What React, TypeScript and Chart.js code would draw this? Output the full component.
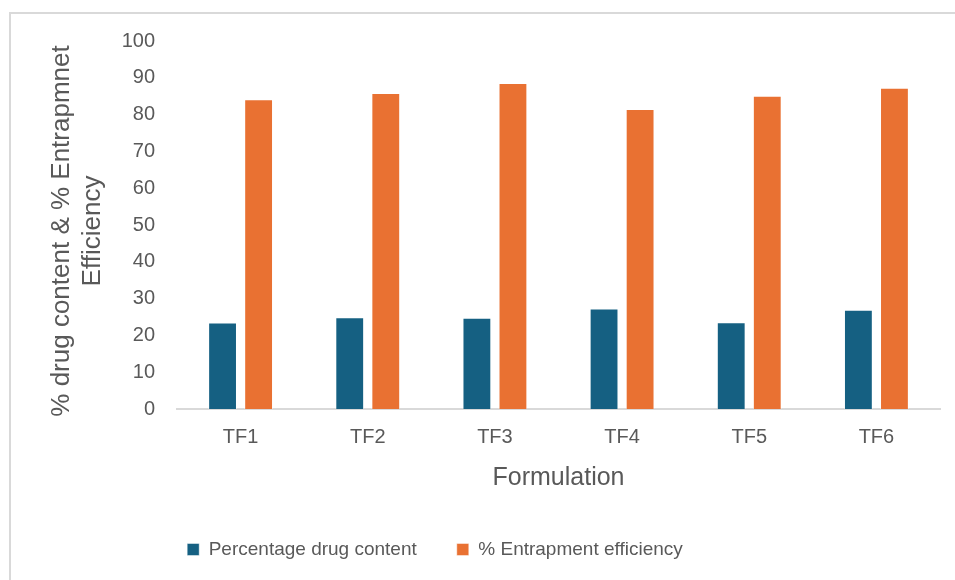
import React, { useEffect, useRef } from "react";
import { Chart, registerables } from "chart.js";

Chart.register(...registerables);

// Formulations and measured values
const formulations = ["TF1", "TF2", "TF3", "TF4", "TF5", "TF6"];
const drugContent = [23.5, 24.9, 24.8, 27.3, 23.6, 27.0];
const entrapmentEfficiency = [84.2, 85.9, 88.6, 81.5, 85.1, 87.3];
const yTitleLines = ["% drug content & % Entrapmnet", "Efficiency"];

const FONT = "'Liberation Sans', Arial, sans-serif";
const TEXT = "#595959";
const AXIS_LINE = "#d9d9d9";

// Moves the legend row left and nudges the y-axis title down a little
const framePlacement = {
  id: "framePlacement",
  afterLayout(chart: any) {
    const lg = chart.legend;
    if (lg) {
      lg.left -= 35;
      lg.right -= 35;
    }
    const y = chart.scales.y;
    if (y && !y.__titleShifted) {
      const original = y.drawTitle.bind(y);
      y.drawTitle = function () {
        const ctx = chart.ctx;
        ctx.save();
        ctx.translate(0, 6);
        original();
        ctx.restore();
      };
      y.__titleShifted = true;
    }
  },
};

export default function App() {
  const canvasRef = useRef<HTMLCanvasElement | null>(null);

  useEffect(() => {
    const canvas = canvasRef.current;
    if (!canvas) return;
    const chart = new Chart(canvas, {
      type: "bar",
      data: {
        labels: formulations,
        datasets: [
          {
            label: "Percentage drug content",
            data: drugContent,
            backgroundColor: "#156082",
            borderColor: "rgba(255,255,255,0.45)",
            borderWidth: 1,
            categoryPercentage: 0.567,
            barPercentage: 0.8,
          },
          {
            label: "% Entrapment efficiency",
            data: entrapmentEfficiency,
            backgroundColor: "#E97132",
            borderColor: "rgba(255,255,255,0.45)",
            borderWidth: 1,
            categoryPercentage: 0.567,
            barPercentage: 0.8,
          },
        ],
      },
      options: {
        responsive: false,
        animation: false,
        devicePixelRatio: 1,
        layout: { padding: { top: 41, left: 0, right: 15, bottom: 11 } },
        plugins: {
          tooltip: { enabled: false },
          legend: {
            position: "bottom",
            labels: {
              boxWidth: 12,
              boxHeight: 12,
              padding: 40,
              color: TEXT,
              font: { family: FONT, size: 19 },
            },
          },
        },
        scales: {
          x: {
            grid: { display: false, drawTicks: false },
            border: { display: true, color: AXIS_LINE, width: 2 },
            ticks: { color: TEXT, font: { family: FONT, size: 20 }, padding: 16 },
            title: {
              display: true,
              text: "Formulation",
              color: TEXT,
              font: { family: FONT, size: 25 },
              padding: { top: 4, bottom: 7 },
            },
            afterFit(scale: any) {
              scale.height = 91;
            },
          },
          y: {
            min: 0,
            max: 100,
            grid: { display: false, drawTicks: false },
            border: { display: false },
            ticks: {
              stepSize: 10,
              color: TEXT,
              font: { family: FONT, size: 20 },
              padding: 22,
            },
            title: {
              display: true,
              text: yTitleLines,
              color: TEXT,
              font: { family: FONT, size: 26 },
              padding: { top: 46, bottom: 4 },
            },
            afterFit(scale: any) {
              scale.width = 177;
            },
          },
        },
      },
      plugins: [framePlacement],
    });
    return () => chart.destroy();
  }, []);

  return (
    <div style={{ position: "fixed", left: 0, top: 0, width: 955, height: 580, background: "#fff" }}>
      <div
        style={{
          position: "absolute",
          left: 9,
          top: 12,
          width: 946,
          height: 568,
          borderTop: `2px solid ${AXIS_LINE}`,
          borderLeft: `2px solid ${AXIS_LINE}`,
          boxSizing: "border-box",
        }}
      />
      <canvas
        ref={canvasRef}
        width={955}
        height={580}
        style={{ position: "absolute", left: 0, top: 0, width: 955, height: 580 }}
      />
    </div>
  );
}
